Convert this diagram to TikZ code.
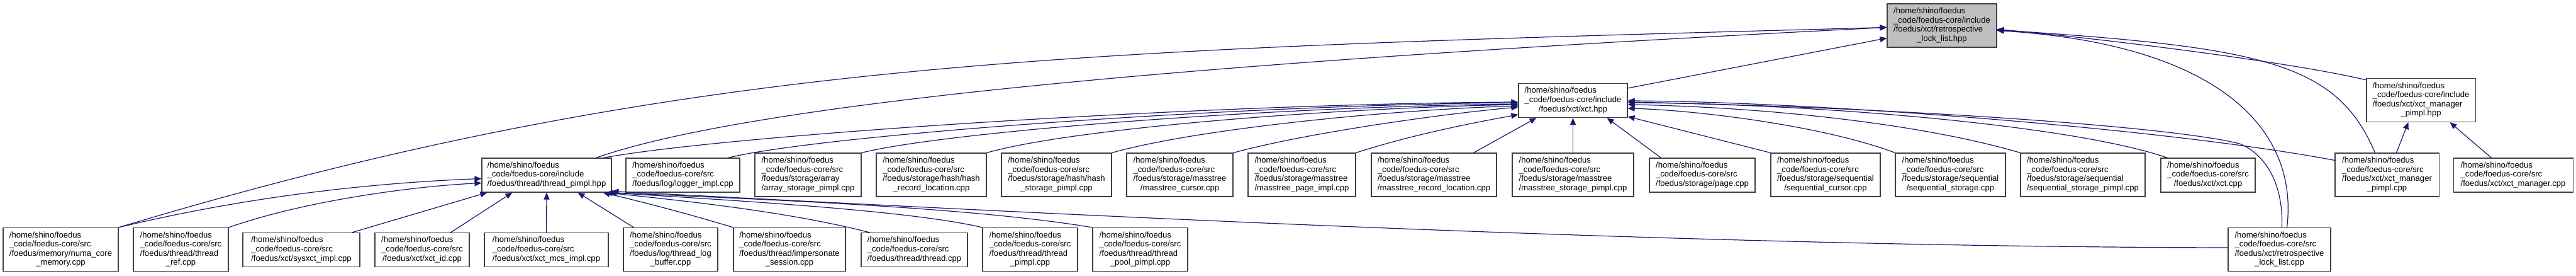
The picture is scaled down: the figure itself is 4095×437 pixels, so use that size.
\documentclass[tikz,border=0pt]{standalone}
\usepackage{fontspec}
\setmainfont{Liberation Sans}
\usetikzlibrary{arrows.meta,calc}
\definecolor{edgeblue}{HTML}{191970}
\definecolor{nodegrey}{HTML}{BFBFBF}
\definecolor{boxline}{HTML}{404040}
\newcommand{\fl}[2]{\begin{tabular}{@{}l@{}}#1\\\multicolumn{1}{@{}c@{}}{#2}\end{tabular}}
\newcommand{\hs}{/home/shino/foedus\\\_code/foedus-core/src}
\newcommand{\hi}{/home/shino/foedus\\\_code/foedus-core/include}
\begin{document}
\begin{tikzpicture}[x=1pt,y=-1pt,
  box/.style={draw=boxline, line width=1.1pt, fill=white, inner sep=0pt, font=\fontsize{13.1}{14.6}\selectfont},
  fourl/.style={box, minimum height=69pt},
  threel/.style={box, minimum height=54pt},
  dep/.style={draw=edgeblue, line width=1.2pt, -{Triangle[length=11pt,width=9pt]}}]
\useasboundingbox (0,0) rectangle (4095,437);
% top / upper nodes
\node[fourl, minimum width=174pt, fill=nodegrey] (T) at (3087,40.5) {\fl{\hi\\/foedus/xct/retrospective}{\_lock\_list.hpp}};
\node[threel, minimum width=173pt] (X) at (2500.5,159.5) {\fl{\hi}{/foedus/xct/xct.hpp}};
\node[fourl, minimum width=173pt] (MH) at (3848.5,159) {\fl{\hi\\/foedus/xct/xct\_manager}{\_pimpl.hpp}};
% middle row
\node[threel, minimum width=206pt] (TP) at (869,278) {\fl{\hi}{/foedus/thread/thread\_pimpl.hpp}};
\node[threel, minimum width=181pt] (LG) at (1085.5,278) {\fl{\hs}{/foedus/log/logger\_impl.cpp}};
\node[fourl, minimum width=169pt] (AR) at (1284.5,277.5) {\fl{\hs\\/foedus/storage/array}{/array\_storage\_pimpl.cpp}};
\node[fourl, minimum width=175pt] (HR) at (1480.5,277.5) {\fl{\hs\\/foedus/storage/hash/hash}{\_record\_location.cpp}};
\node[fourl, minimum width=175pt] (HS) at (1679.5,277.5) {\fl{\hs\\/foedus/storage/hash/hash}{\_storage\_pimpl.cpp}};
\node[fourl, minimum width=169pt] (MC) at (1875.5,277.5) {\fl{\hs\\/foedus/storage/masstree}{/masstree\_cursor.cpp}};
\node[fourl, minimum width=171pt] (MP) at (2069.5,277.5) {\fl{\hs\\/foedus/storage/masstree}{/masstree\_page\_impl.cpp}};
\node[fourl, minimum width=199pt] (MR) at (2279.5,277.5) {\fl{\hs\\/foedus/storage/masstree}{/masstree\_record\_location.cpp}};
\node[fourl, minimum width=193pt] (MS) at (2500.5,277.5) {\fl{\hs\\/foedus/storage/masstree}{/masstree\_storage\_pimpl.cpp}};
\node[threel, minimum width=168pt] (PG) at (2706,278) {\fl{\hs}{/foedus/storage/page.cpp}};
\node[fourl, minimum width=174pt] (SC) at (2902,277.5) {\fl{\hs\\/foedus/storage/sequential}{/sequential\_cursor.cpp}};
\node[fourl, minimum width=175pt] (SS) at (3100.5,277.5) {\fl{\hs\\/foedus/storage/sequential}{/sequential\_storage.cpp}};
\node[fourl, minimum width=198pt] (SP) at (3311,277.5) {\fl{\hs\\/foedus/storage/sequential}{/sequential\_storage\_pimpl.cpp}};
\node[threel, minimum width=150pt] (XC) at (3510,278) {\fl{\hs}{/foedus/xct/xct.cpp}};
\node[fourl, minimum width=165pt] (MPC) at (3794.5,277.5) {\fl{\hs\\/foedus/xct/xct\_manager}{\_pimpl.cpp}};
\node[threel, minimum width=190pt] (MGR) at (3995,278) {\fl{\hs}{/foedus/xct/xct\_manager.cpp}};
% bottom row
\node[fourl, minimum width=183pt] (NU) at (96.5,396) {\fl{\hs\\/foedus/memory/numa\_core}{\_memory.cpp}};
\node[fourl, minimum width=151pt] (TR) at (287.5,396) {\fl{\hs\\/foedus/thread/thread}{\_ref.cpp}};
\node[threel, minimum width=186pt] (SY) at (479,396.5) {\fl{\hs}{/foedus/xct/sysxct\_impl.cpp}};
\node[threel, minimum width=150pt] (XI) at (671,396.5) {\fl{\hs}{/foedus/xct/xct\_id.cpp}};
\node[threel, minimum width=197pt] (XM) at (868.5,396.5) {\fl{\hs}{/foedus/xct/xct\_mcs\_impl.cpp}};
\node[fourl, minimum width=150pt] (TLB) at (1066,396) {\fl{\hs\\/foedus/log/thread\_log}{\_buffer.cpp}};
\node[fourl, minimum width=178pt] (IS) at (1255,396) {\fl{\hs\\/foedus/thread/impersonate}{\_session.cpp}};
\node[threel, minimum width=169pt] (TH) at (1453.5,396.5) {\fl{\hs}{/foedus/thread/thread.cpp}};
\node[fourl, minimum width=151pt] (TPC) at (1637.5,396) {\fl{\hs\\/foedus/thread/thread}{\_pimpl.cpp}};
\node[fourl, minimum width=151pt] (TPP) at (1812.5,396) {\fl{\hs\\/foedus/thread/thread}{\_pool\_pimpl.cpp}};
\node[fourl, minimum width=163pt] (RC) at (3623.5,396) {\fl{\hs\\/foedus/xct/retrospective}{\_lock\_list.cpp}};
% edges into retrospective_lock_list.hpp
\draw[dep] (NU.north east) .. controls (1088,91) and (1700,79) .. ($(T.north west)+(0,38)$);
\draw[dep] ($(TP.north west)+(182,0)$) .. controls (1248,145) and (2200,84) .. ($(T.north west)+(0,38)$);
\draw[dep] ($(X.north east)+(0,8)$) -- ($(T.north west)+(0,55)$);
\draw[dep] ($(MH.north west)+(0,3)$) .. controls (3650,100) and (3350,62) .. ($(T.north east)+(0,41)$);
\draw[dep] ($(MPC.north west)+(64,0)$) .. controls (3715,100) and (3600,75) .. ($(T.north east)+(0,42)$);
\draw[dep] ($(RC.north west)+(94,0)$) .. controls (3655,200) and (3520,70) .. ($(T.north east)+(0,43)$);
% edges into xct.hpp
\draw[dep] ($(TP.north west)+(194,0)$) .. controls (1150,215) and (1900,165) .. ($(X.north west)+(0,30)$);
\draw[dep] ($(LG.north west)+(163,0)$) .. controls (1300,215) and (1950,167) .. ($(X.north west)+(0,31)$);
\draw[dep] (AR.north east) .. controls (1500,210) and (2000,170) .. ($(X.north west)+(0,33)$);
\draw[dep] (HR.north east) .. controls (1700,205) and (2100,172) .. ($(X.north west)+(0,34)$);
\draw[dep] (HS.north east) .. controls (1900,205) and (2200,175) .. ($(X.north west)+(0,36)$);
\draw[dep] (MC.north east) .. controls (2080,210) and (2300,180) .. ($(X.north west)+(0,38)$);
\draw[dep] (MP.north east) .. controls (2240,215) and (2340,195) .. ($(X.north west)+(0,50)$);
\draw[dep] ($(MR.north west)+(163,0)$) -- ($(X.south west)+(29,0)$);
\draw[dep] (MS.north) -- (X.south);
\draw[dep] ($(PG.north west)+(19,0)$) -- ($(X.south west)+(141,0)$);
\draw[dep] (SC.north west) -- ($(X.north east)+(0,53)$);
\draw[dep] (SS.north west) .. controls (2900,200) and (2700,175) .. ($(X.north east)+(0,40)$);
\draw[dep] (SP.north west) .. controls (3050,195) and (2800,170) .. ($(X.north east)+(0,34)$);
\draw[dep] ($(XC.north west)+(11,0)$) .. controls (3300,200) and (2900,165) .. ($(X.north east)+(0,31)$);
\draw[dep] ($(MPC.north west)+(0,12)$) .. controls (3450,205) and (2900,162) .. ($(X.north east)+(0,28)$);
\draw[dep] ($(RC.north west)+(86,0)$) .. controls (3630,290) and (3600,244) .. (3560,228) .. controls (3450,200) and (3000,170) .. ($(X.north east)+(0,30)$);
% edges into thread_pimpl.hpp
\draw[dep] (NU.north east) .. controls (400,310) and (600,290) .. ($(TP.north west)+(0,33)$);
\draw[dep] (TR.north east) .. controls (480,320) and (650,296) .. ($(TP.north west)+(0,40)$);
\draw[dep] ($(SY.north west)+(174,0)$) -- ($(TP.south west)+(9,0)$);
\draw[dep] ($(XI.north west)+(121,0)$) -- ($(TP.south west)+(49,0)$);
\draw[dep] (XM.north) -- (TP.south);
\draw[dep] ($(TLB.north west)+(17,0)$) -- ($(TP.south west)+(153,0)$);
\draw[dep] (IS.north west) .. controls (1080,335) and (1010,318) .. ($(TP.south east)+(-14,0)$);
\draw[dep] ($(TH.north west)+(14,0)$) .. controls (1250,335) and (1080,318) .. ($(TP.south east)+(-10,0)$);
\draw[dep] (TPC.north west) .. controls (1450,335) and (1200,320) .. ($(TP.south east)+(-6,0)$);
\draw[dep] (TPP.north west) .. controls (1550,330) and (1250,318) .. ($(TP.south east)+(-3,0)$);
\draw[dep] ($(RC.north west)+(0,32)$) .. controls (2600,392) and (1500,330) .. ($(TP.south east)+(0,-2)$);
% edges into xct_manager_pimpl.hpp
\draw[dep] ($(MPC.north west)+(98,0)$) -- ($(MH.south west)+(67,0)$);
\draw[dep] ($(MGR.north west)+(61,0)$) -- ($(MH.south west)+(133,0)$);
\end{tikzpicture}
\end{document}
